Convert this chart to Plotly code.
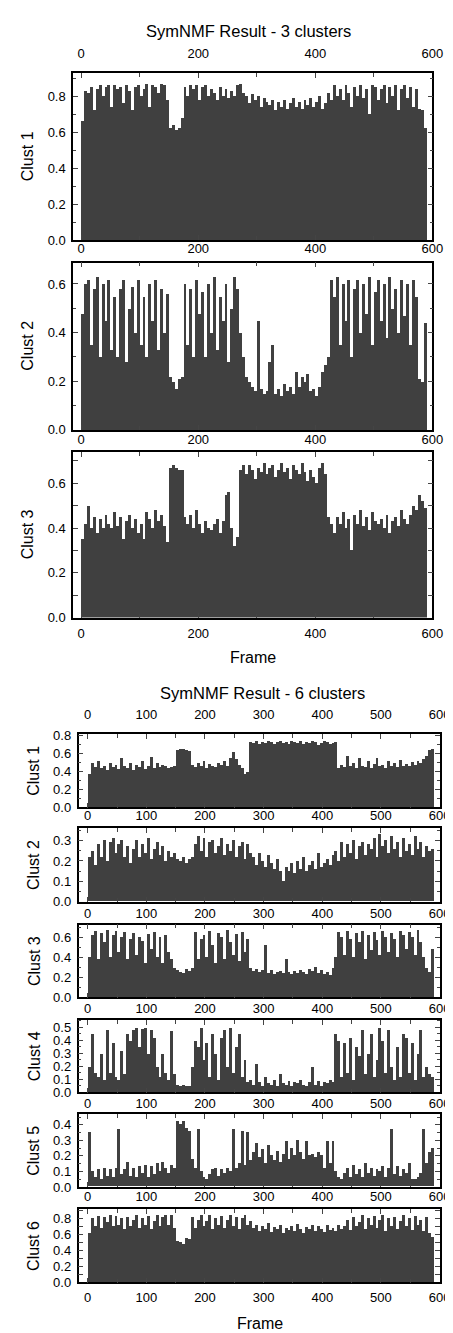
import plotly.graph_objects as go

W, H = 453, 1333
frame_bins = list(range(0, 590, 5))

# ---- 3-cluster result ----
k3_clust1 = [0.66, 0.83, 0.82, 0.85, 0.72, 0.84, 0.86, 0.80, 0.85, 0.86,
             0.74, 0.86, 0.84, 0.85, 0.76, 0.86, 0.83, 0.72, 0.85, 0.86,
             0.80, 0.84, 0.87, 0.74, 0.86, 0.85, 0.82, 0.87, 0.86, 0.78,
             0.62, 0.64, 0.61, 0.62, 0.68,
             0.85, 0.80, 0.86, 0.84, 0.86, 0.78, 0.85, 0.86, 0.80, 0.84,
             0.82, 0.78, 0.85, 0.80, 0.84, 0.79, 0.83, 0.80, 0.86,
             0.87, 0.82,
             0.80, 0.76, 0.81, 0.78, 0.80, 0.74, 0.79, 0.77, 0.75, 0.78,
             0.72, 0.77, 0.74, 0.78, 0.73, 0.76, 0.79, 0.74, 0.77, 0.73,
             0.78, 0.75, 0.79, 0.74, 0.77, 0.80, 0.73, 0.76,
             0.82, 0.78, 0.86, 0.80,
             0.84, 0.78, 0.86, 0.82, 0.74, 0.85, 0.80, 0.86, 0.79, 0.84,
             0.70, 0.86, 0.85, 0.78, 0.84, 0.86, 0.76, 0.85, 0.80, 0.86,
             0.72, 0.84, 0.86, 0.79,
             0.85, 0.74, 0.84, 0.73, 0.72, 0.62]
k3_clust2 = [0.48, 0.60, 0.62, 0.35, 0.58, 0.63, 0.30, 0.60, 0.45, 0.62,
             0.33, 0.55, 0.30, 0.58, 0.62, 0.28, 0.50, 0.59, 0.40, 0.62,
             0.35, 0.55, 0.30, 0.60, 0.45, 0.62, 0.33, 0.58, 0.40, 0.56,
             0.22, 0.20, 0.17, 0.21, 0.22, 0.60,
             0.35, 0.58, 0.30, 0.62, 0.48, 0.57, 0.30, 0.60, 0.40, 0.63,
             0.33, 0.55, 0.45, 0.60, 0.28, 0.50, 0.63, 0.58,
             0.40, 0.30, 0.22, 0.20,
             0.18, 0.16, 0.45, 0.17, 0.15, 0.16, 0.28, 0.35, 0.15, 0.17,
             0.14, 0.19, 0.16, 0.18, 0.15, 0.24, 0.18, 0.22, 0.20, 0.23,
             0.16, 0.17, 0.14, 0.18,
             0.24, 0.27, 0.30,
             0.62, 0.55, 0.63, 0.35, 0.60, 0.45, 0.62, 0.30, 0.58, 0.62,
             0.40, 0.60, 0.48, 0.63, 0.35, 0.57, 0.62, 0.45, 0.60, 0.38,
             0.63, 0.50, 0.58, 0.40, 0.62, 0.47, 0.60, 0.35, 0.62, 0.55,
             0.21, 0.20, 0.44]
k3_clust3 = [0.35, 0.42, 0.50, 0.40, 0.45, 0.38, 0.44, 0.40, 0.46, 0.42,
             0.40, 0.47, 0.41, 0.45, 0.35, 0.43, 0.46, 0.40, 0.44, 0.38,
             0.42, 0.35, 0.47, 0.44, 0.40, 0.48, 0.43, 0.46, 0.41,
             0.34,
             0.67, 0.68, 0.67, 0.66, 0.66,
             0.45,
             0.42, 0.46, 0.40, 0.48, 0.42, 0.38, 0.43, 0.40, 0.39, 0.42,
             0.44, 0.38, 0.43,
             0.55, 0.56,
             0.40, 0.32, 0.36,
             0.66, 0.68, 0.64, 0.68, 0.66, 0.62, 0.67, 0.65, 0.69, 0.64,
             0.67, 0.68, 0.63, 0.66, 0.69, 0.65, 0.67, 0.62, 0.68, 0.66,
             0.64, 0.69, 0.65, 0.61, 0.66, 0.63, 0.60, 0.67, 0.69, 0.64,
             0.45, 0.42,
             0.38, 0.45, 0.42, 0.47, 0.40, 0.44, 0.30, 0.46, 0.42, 0.48,
             0.41, 0.45, 0.39, 0.47, 0.43, 0.42, 0.44, 0.40, 0.46, 0.38,
             0.43, 0.45, 0.41, 0.48, 0.44, 0.42,
             0.46, 0.50, 0.48, 0.55, 0.52, 0.49]

# ---- 6-cluster result ----
k6_clust1 = [0.38, 0.50, 0.45, 0.52, 0.44, 0.47, 0.42, 0.50, 0.45, 0.48,
             0.43, 0.55, 0.46, 0.44, 0.50, 0.42, 0.48, 0.45, 0.52, 0.43,
             0.47, 0.56, 0.44, 0.50, 0.45, 0.48, 0.46, 0.44, 0.45, 0.46,
             0.64, 0.66, 0.65, 0.64, 0.63,
             0.48, 0.45, 0.50, 0.47, 0.52, 0.44, 0.49, 0.46, 0.45, 0.50,
             0.48, 0.52, 0.46, 0.55,
             0.62, 0.54, 0.48,
             0.44, 0.38, 0.40,
             0.73, 0.72, 0.74, 0.71, 0.73, 0.72, 0.74, 0.73, 0.71, 0.73,
             0.74, 0.72, 0.73, 0.71, 0.74, 0.73, 0.72, 0.74, 0.71, 0.73,
             0.72, 0.74, 0.73, 0.70, 0.72, 0.74, 0.73, 0.71, 0.72, 0.73,
             0.44, 0.48, 0.45, 0.58, 0.46, 0.50, 0.44, 0.55, 0.47, 0.45,
             0.52, 0.44, 0.49, 0.55, 0.46, 0.48, 0.44, 0.52, 0.47, 0.50,
             0.45, 0.53, 0.46, 0.49, 0.47, 0.51, 0.48, 0.52,
             0.50, 0.54, 0.58, 0.64, 0.65]
k6_clust2 = [0.22, 0.25, 0.18, 0.28, 0.22, 0.30, 0.20, 0.29, 0.31, 0.24,
             0.28, 0.30, 0.22, 0.27, 0.19, 0.26, 0.30, 0.22, 0.28, 0.24,
             0.31, 0.21, 0.26, 0.29, 0.23, 0.27, 0.20, 0.25, 0.22, 0.24,
             0.21, 0.20, 0.22, 0.19, 0.21, 0.22,
             0.28, 0.32, 0.25, 0.31, 0.22, 0.29, 0.30, 0.24, 0.27, 0.31,
             0.23, 0.28, 0.25, 0.30, 0.22, 0.27, 0.29, 0.21, 0.28, 0.24,
             0.22, 0.18, 0.24, 0.20, 0.17, 0.23, 0.19, 0.16, 0.21, 0.15,
             0.10, 0.17, 0.15, 0.19, 0.14, 0.20, 0.16, 0.22, 0.15, 0.18,
             0.20, 0.16, 0.24, 0.17, 0.19, 0.21, 0.18, 0.23,
             0.25, 0.20, 0.29, 0.22, 0.28, 0.24, 0.30, 0.21, 0.27, 0.29,
             0.23, 0.28, 0.26, 0.31, 0.22, 0.33, 0.27, 0.30, 0.24, 0.32,
             0.26, 0.29, 0.22, 0.31, 0.25, 0.28, 0.23, 0.32, 0.26, 0.29,
             0.22, 0.27, 0.25, 0.26]
k6_clust3 = [0.40, 0.62, 0.66, 0.38, 0.64, 0.55, 0.67, 0.40, 0.62, 0.66,
             0.45, 0.60, 0.65, 0.38, 0.58, 0.64, 0.42, 0.60, 0.56, 0.35,
             0.63, 0.48, 0.65, 0.40, 0.60, 0.35, 0.62, 0.45, 0.38, 0.30,
             0.28, 0.26, 0.25, 0.29, 0.27, 0.30,
             0.65, 0.38, 0.58, 0.62, 0.40, 0.66, 0.52, 0.35, 0.64, 0.60,
             0.38, 0.67, 0.55, 0.42, 0.63, 0.36, 0.65, 0.45, 0.58,
             0.30, 0.27, 0.29, 0.26, 0.28,
             0.52,
             0.25, 0.28, 0.24, 0.26, 0.27, 0.25, 0.38, 0.26, 0.24, 0.27,
             0.25, 0.28, 0.26, 0.24, 0.29, 0.27, 0.31, 0.25, 0.28, 0.24,
             0.26, 0.23, 0.30,
             0.40,
             0.65, 0.60, 0.42, 0.66, 0.58, 0.40, 0.64, 0.55, 0.66, 0.38,
             0.62, 0.47, 0.65, 0.57, 0.42, 0.66, 0.60, 0.45, 0.64, 0.58,
             0.40, 0.66, 0.62, 0.48, 0.65, 0.60, 0.42, 0.67, 0.55, 0.40,
             0.30, 0.26, 0.48]
k6_clust4 = [0.20, 0.45, 0.15, 0.12, 0.30, 0.10, 0.48, 0.15, 0.38, 0.12,
             0.10, 0.32, 0.14, 0.45, 0.40, 0.48, 0.50, 0.35, 0.49, 0.50,
             0.30, 0.48, 0.42, 0.20, 0.12, 0.30, 0.15, 0.10, 0.47, 0.14,
             0.06, 0.05, 0.06, 0.05, 0.05,
             0.20, 0.40, 0.35, 0.50, 0.25, 0.38, 0.12, 0.45, 0.30, 0.10,
             0.42, 0.48, 0.20, 0.50, 0.15, 0.35, 0.45, 0.12, 0.25,
             0.08, 0.10, 0.06, 0.22, 0.08, 0.05, 0.12, 0.07, 0.06, 0.10,
             0.05, 0.14, 0.07, 0.06, 0.09, 0.05, 0.08, 0.07, 0.10, 0.06,
             0.05, 0.08, 0.20, 0.06, 0.09, 0.05, 0.08, 0.07, 0.10, 0.08,
             0.45, 0.40, 0.12, 0.38, 0.15, 0.42, 0.10, 0.35, 0.28, 0.48,
             0.14, 0.30, 0.45, 0.12, 0.25, 0.50, 0.40, 0.15, 0.48, 0.20,
             0.10, 0.35, 0.12, 0.45, 0.42, 0.15, 0.38, 0.10, 0.30, 0.48,
             0.12, 0.20, 0.14, 0.12]
k6_clust5 = [0.35, 0.10, 0.06, 0.11, 0.05, 0.12, 0.07, 0.11, 0.06, 0.12,
             0.37, 0.08, 0.11, 0.16, 0.07, 0.12, 0.06, 0.13, 0.09, 0.14,
             0.06, 0.13, 0.08, 0.15, 0.10, 0.16, 0.12, 0.09, 0.14, 0.12,
             0.42, 0.40, 0.42, 0.38, 0.36,
             0.18, 0.12, 0.37, 0.10, 0.06, 0.05, 0.08, 0.11, 0.12, 0.07,
             0.11, 0.09, 0.12, 0.10,
             0.37, 0.12, 0.15, 0.36, 0.14,
             0.35,
             0.17, 0.22, 0.28, 0.19, 0.24, 0.15, 0.27, 0.20, 0.17, 0.23,
             0.16, 0.21, 0.29, 0.18, 0.25, 0.20, 0.30, 0.22, 0.18, 0.29,
             0.20, 0.21, 0.19, 0.22, 0.20,
             0.12, 0.29, 0.15, 0.29, 0.10,
             0.06, 0.05, 0.09, 0.12, 0.06, 0.14, 0.08, 0.11, 0.06, 0.15,
             0.09, 0.12, 0.07, 0.11, 0.10, 0.13, 0.06, 0.12, 0.37, 0.08,
             0.13, 0.07, 0.11, 0.09, 0.15, 0.05, 0.05, 0.06, 0.09,
             0.37, 0.15, 0.22, 0.25]
k6_clust6 = [0.62, 0.80, 0.70, 0.83, 0.68, 0.82, 0.75, 0.84, 0.70, 0.83,
             0.72, 0.80, 0.66, 0.82, 0.70, 0.78, 0.84, 0.68, 0.80, 0.72,
             0.83, 0.67, 0.76, 0.84, 0.70, 0.81, 0.84, 0.72, 0.84, 0.68,
             0.52, 0.50, 0.48, 0.55, 0.54,
             0.82, 0.68, 0.78, 0.84, 0.70, 0.76, 0.84, 0.66, 0.80, 0.72,
             0.83, 0.68, 0.78, 0.84, 0.70, 0.82, 0.67, 0.80, 0.84, 0.72, 0.76,
             0.68, 0.72, 0.64, 0.70, 0.66, 0.74, 0.63, 0.69, 0.67, 0.72,
             0.62, 0.68, 0.65, 0.70, 0.64, 0.73, 0.66, 0.62, 0.69, 0.67,
             0.72, 0.64, 0.70, 0.66, 0.63, 0.71, 0.65, 0.68, 0.64, 0.72,
             0.66, 0.70,
             0.78, 0.65, 0.82, 0.70, 0.75, 0.84, 0.66, 0.80, 0.72, 0.83,
             0.68, 0.78, 0.84, 0.64, 0.80, 0.70, 0.82, 0.66, 0.76, 0.84,
             0.70, 0.80, 0.65, 0.83, 0.72, 0.78, 0.64, 0.82, 0.62, 0.56]

titles = ["SymNMF Result - 3 clusters", "SymNMF Result - 6 clusters"]
ylabels3 = ["Clust 1", "Clust 2", "Clust 3"]
ylabels6 = ["Clust 1", "Clust 2", "Clust 3", "Clust 4", "Clust 5", "Clust 6"]

FONT = "Liberation Sans, Arial, sans-serif"
BAR = "#404040"

# panel geometry (pixels): top, bottom, ymax, dtick, minor, standoff of top labels
top_fig = dict(x0=66.7, x1=435.0, xr=[-13.8, 600], xdt=200, xminor=100,
               rows=[(61.0, 229.3, 0.929, 0.2, 0.1, 8),
                     (252.0, 421.0, 0.688, 0.2, 0.1, 3),
                     (443.3, 610.5, 0.740, 0.2, 0.1, 1)])
bot_fig = dict(x0=72.3, x1=442.3, xr=[-15.6, 600], xdt=100, xminor=50,
               rows=[(728.0, 802.3, 0.822, 0.2, 0.1, 8),
                     (823.3, 897.3, 0.361, 0.1, 0.05, 1),
                     (920.7, 994.0, 0.724, 0.2, 0.1, 0),
                     (1016.7, 1090.0, 0.558, 0.1, 0.05, 0),
                     (1112.3, 1185.5, 0.467, 0.1, 0.05, 0),
                     (1208.0, 1282.0, 0.915, 0.2, 0.1, 1)])

series = [k3_clust1, k3_clust2, k3_clust3,
          k6_clust1, k6_clust2, k6_clust3, k6_clust4, k6_clust5, k6_clust6]

fig = go.Figure()
layout = {}
panels = [(top_fig, r) for r in top_fig["rows"]] + [(bot_fig, r) for r in bot_fig["rows"]]
tickfont = dict(family=FONT, size=13, color="black")

for i, ((cfg, row), vals) in enumerate(zip(panels, series), start=1):
    sfx = "" if i == 1 else str(i)
    top, bot, ymax, ydt, yminor, so = row
    fig.add_trace(go.Bar(x=frame_bins, y=vals, width=5, offset=0,
                         marker=dict(color=BAR, line=dict(width=0)),
                         xaxis="x" + sfx, yaxis="y" + sfx, showlegend=False,
                         hoverinfo="x+y"))
    layout["xaxis" + sfx] = dict(
        domain=[cfg["x0"] / W, cfg["x1"] / W], anchor="y" + sfx, side="top",
        range=cfg["xr"], tick0=0, dtick=cfg["xdt"], ticks="inside", ticklen=5,
        tickwidth=1.2, minor=dict(ticks="inside", ticklen=4, dtick=cfg["xminor"], tick0=0,
                                  tickwidth=1.2),
        showline=True, linecolor="black", linewidth=1.5, mirror="allticks",
        showgrid=False, zeroline=False, tickfont=tickfont, ticklabelstandoff=so,
        fixedrange=True)
    layout["yaxis" + sfx] = dict(
        domain=[1 - bot / H, 1 - top / H], anchor="x" + sfx,
        range=[0, ymax], tick0=0, dtick=ydt, tickformat=".1f",
        ticks="inside", ticklen=5, tickwidth=1.2,
        minor=dict(ticks="inside", ticklen=3, dtick=yminor, tick0=0, tickwidth=1.2),
        showline=True, linecolor="black", linewidth=1.5, mirror="allticks",
        showgrid=False, zeroline=False, tickfont=tickfont, ticklabelstandoff=3,
        fixedrange=True)

# bottom tick labels for last panel of each figure
for ax_id, base, cfg, so in [(10, 3, top_fig, 6), (11, 9, bot_fig, 6)]:
    bsfx = str(base)
    fig.add_trace(go.Scatter(x=[], y=[], xaxis="x" + str(ax_id), yaxis="y" + bsfx,
                             showlegend=False))
    layout["xaxis" + str(ax_id)] = dict(
        domain=[cfg["x0"] / W, cfg["x1"] / W], anchor="y" + bsfx, overlaying="x" + bsfx,
        side="bottom", range=cfg["xr"], tick0=0, dtick=cfg["xdt"], ticks="",
        showline=False, showgrid=False, zeroline=False, tickfont=tickfont,
        ticklabelstandoff=so, fixedrange=True)

annotations = []
def ann(text, x, y, size, angle=0):
    annotations.append(dict(text=text, x=x / W, y=1 - y / H, xref="paper", yref="paper",
                            showarrow=False, textangle=angle, xanchor="center",
                            yanchor="middle", font=dict(family=FONT, size=size, color="black")))

ann(titles[0], 246, 18.5, 16.5)
ann(titles[1], 260.7, 686.5, 16.5)
for (top, bot, *_), lab in zip(top_fig["rows"], ylabels3):
    ann(lab, 20, (top + bot) / 2, 16, -90)
for (top, bot, *_), lab in zip(bot_fig["rows"], ylabels6):
    ann(lab, 26.7, (top + bot) / 2, 16, -90)
ann("Frame", 250.8, 651, 16)
ann("Frame", 258, 1323, 16)

fig.update_layout(width=W, height=H, autosize=False,
                  margin=dict(l=0, r=0, t=0, b=0),
                  paper_bgcolor="white", plot_bgcolor="white",
                  bargap=0, barmode="overlay", annotations=annotations,
                  font=dict(family=FONT, color="black"), **layout)

fig.write_html("out.html")
